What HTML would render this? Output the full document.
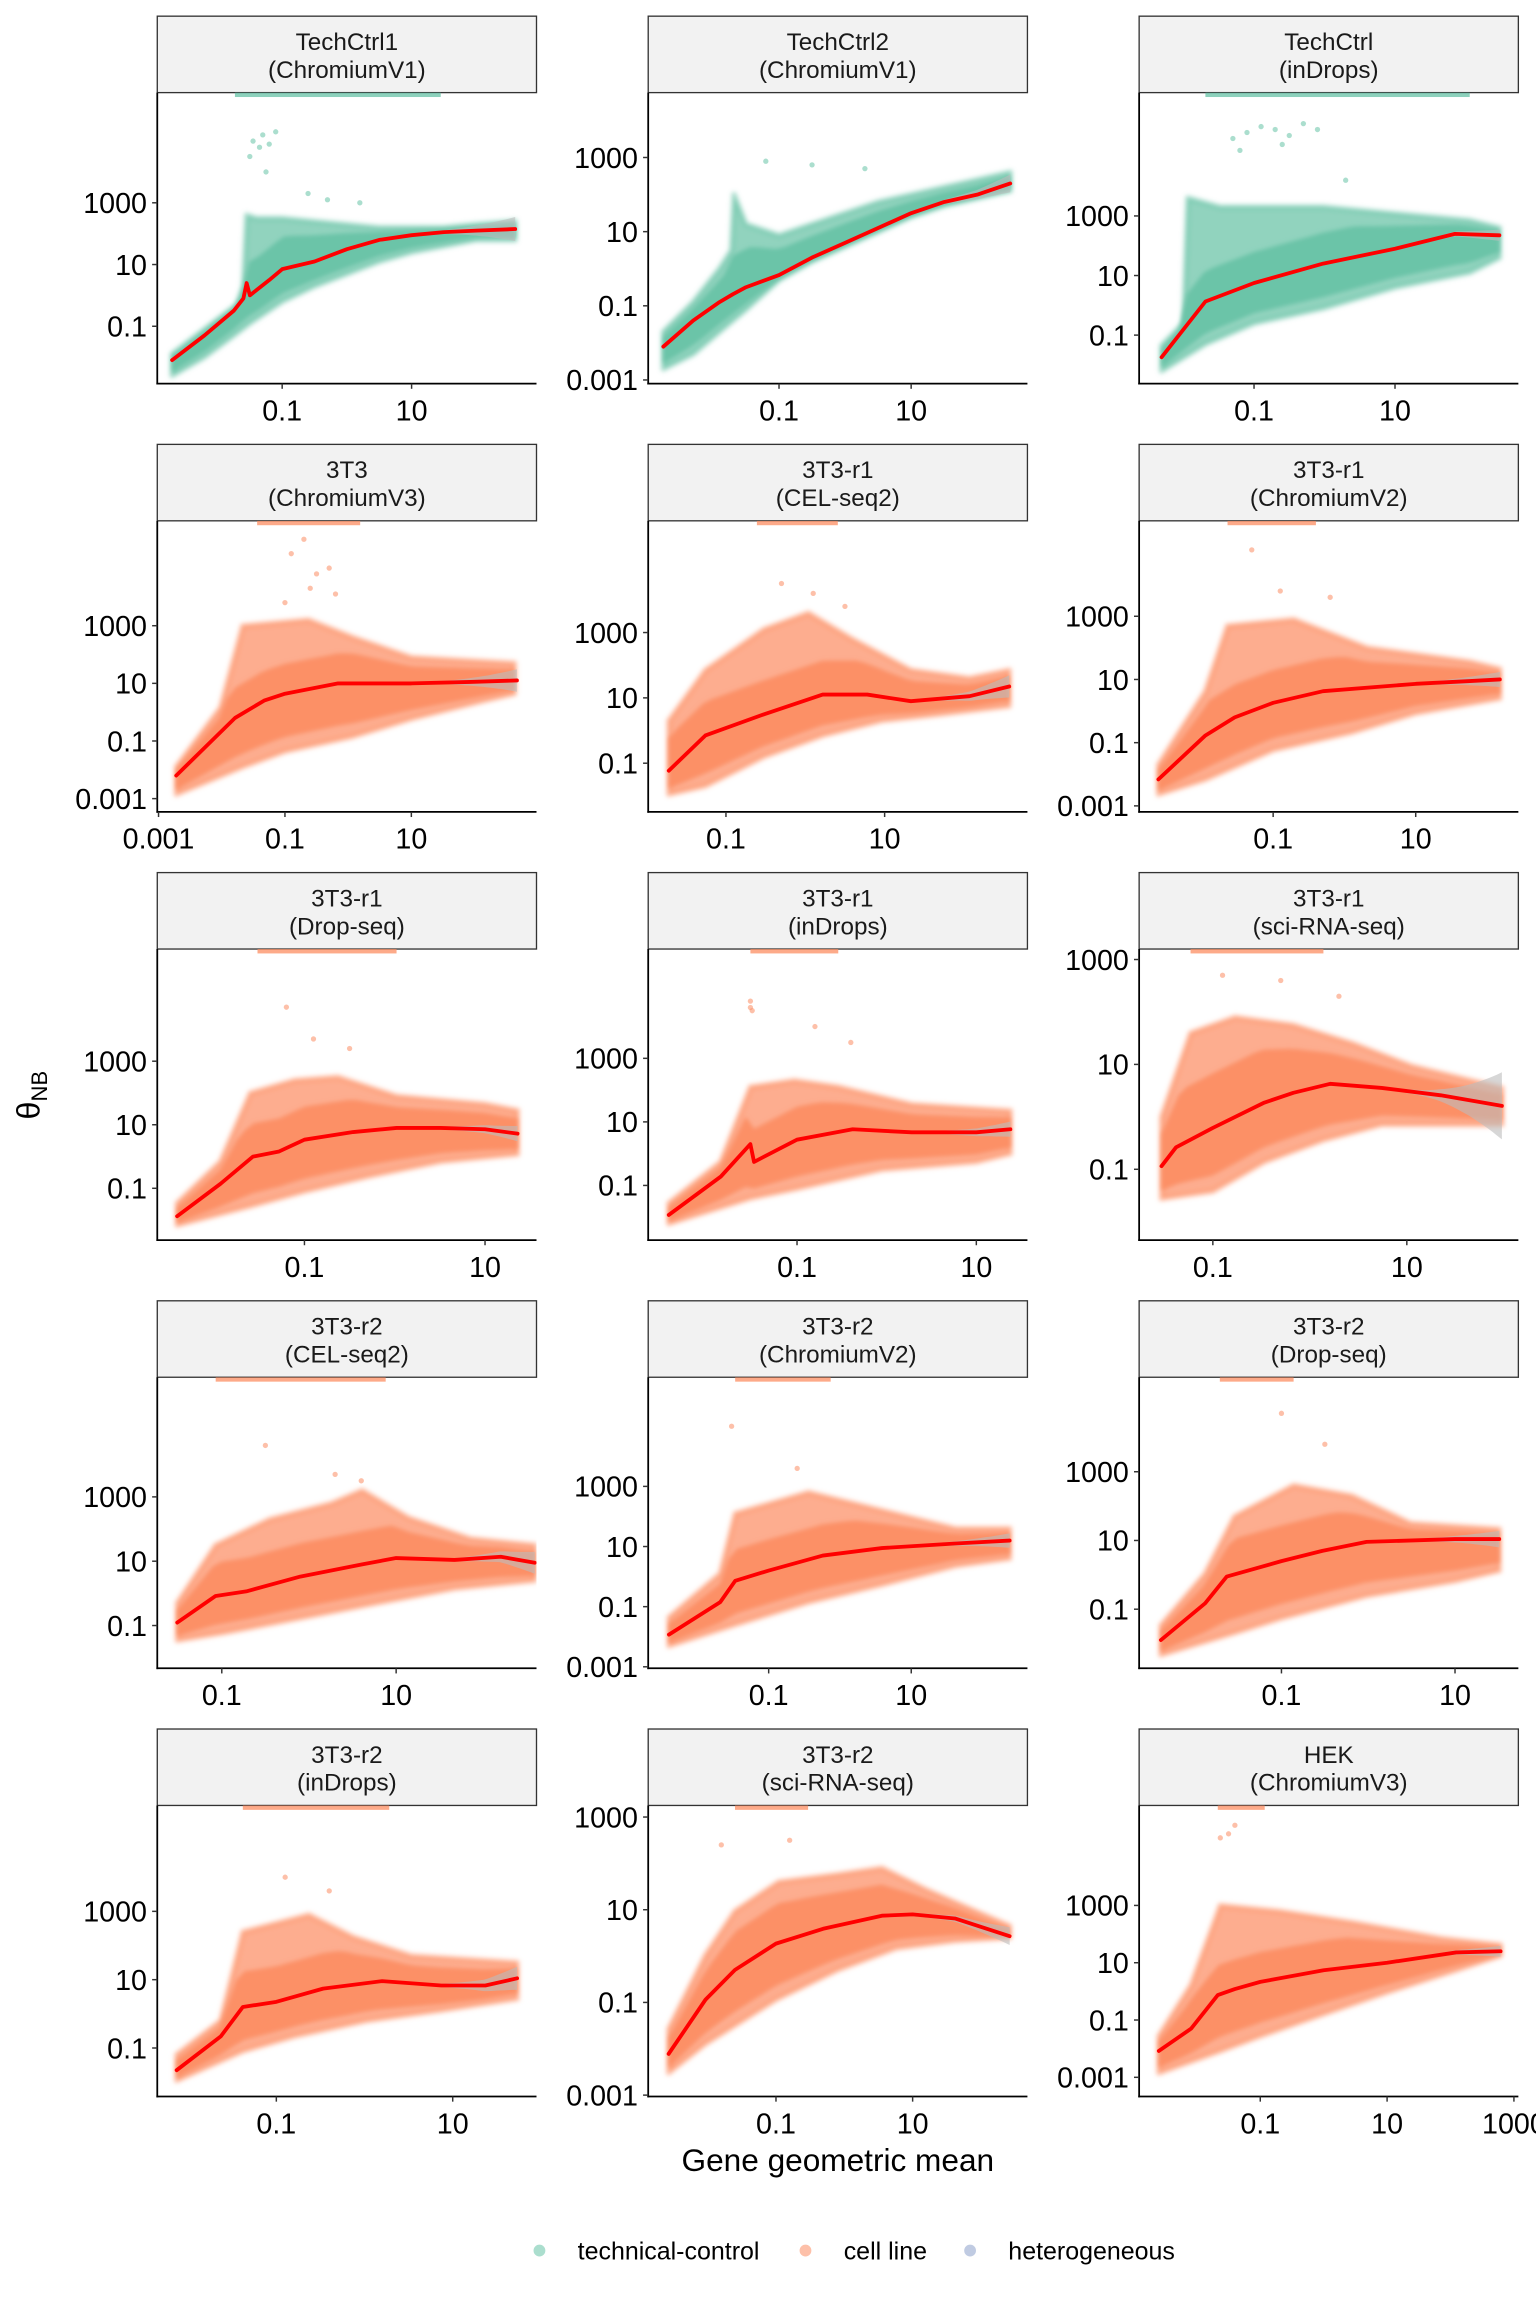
<!DOCTYPE html>
<html><head><meta charset="utf-8"><style>
html,body{margin:0;padding:0;background:#fff;}
svg{display:block;font-family:"Liberation Sans",Arial,sans-serif;}
</style></head><body>
<svg id="chart" width="1536" height="2304" viewBox="0 0 1045 1567.35" preserveAspectRatio="none" xmlns="http://www.w3.org/2000/svg"></svg>
<script>
const panelTitles=["TechCtrl1","TechCtrl2","TechCtrl","3T3","3T3-r1","3T3-r1","3T3-r1","3T3-r1","3T3-r1","3T3-r2","3T3-r2","3T3-r2","3T3-r2","3T3-r2","HEK"];
const panelMethods=["ChromiumV1","ChromiumV1","inDrops","ChromiumV3","CEL-seq2","ChromiumV2","Drop-seq","inDrops","sci-RNA-seq","CEL-seq2","ChromiumV2","Drop-seq","inDrops","sci-RNA-seq","ChromiumV3"];
const panelGroup=[0,0,0,1,1,1,1,1,1,1,1,1,1,1,1];
const xDomain=[[-2.93,2.93],[-2.98,2.76],[-2.63,2.75],[-3.02,2.98],[-1.98,2.8],[-2.88,2.44],[-2.63,1.57],[-2.66,1.57],[-1.76,2.15],[-1.74,2.61],[-2.69,2.63],[-2.64,1.73],[-2.35,1.95],[-2.87,2.68],[-2.91,3.07]];
const yDomain=[[-2.86,6.57],[-3.1,4.75],[-2.63,7.14],[-3.46,6.64],[-2.49,6.42],[-3.19,6.02],[-2.63,6.53],[-2.72,6.44],[-2.35,3.2],[-2.33,6.72],[-3.05,6.63],[-2.72,5.75],[-2.42,6.1],[-3.03,3.25],[-3.67,6.49]];
const yTicks=[[3,1,-1],[3,1,-1,-3],[3,1,-1],[3,1,-1,-3],[3,1,-1],[3,1,-1,-3],[3,1,-1],[3,1,-1],[3,1,-1],[3,1,-1],[3,1,-1,-3],[3,1,-1],[3,1,-1],[3,1,-1,-3],[3,1,-1,-3]];
const xTicks=[[-1,1],[-1,1],[-1,1],[-3,-1,1],[-1,1],[-1,1],[-1,1],[-1,1],[-1,1],[-1,1],[-1,1],[-1,1],[-1,1],[-1,1],[-1,1,3]];
const xMid=[
[-2.7,-2.2,-1.75,-1.6,-1.55,-1.5,-1.2,-1,-0.5,0,0.5,1,1.5,2,2.6],
[-2.75,-2.3,-1.9,-1.7,-1.5,-1,-0.5,0,0.5,1,1.5,2,2.5],
[-2.31,-1.69,-1,-0.02,1,1.85,2.48],
[-2.72,-1.79,-1.33,-1,-0.16,1,1.93,2.67],
[-1.72,-1.26,-0.52,0.22,0.78,1.33,2.07,2.57],
[-2.61,-1.95,-1.54,-1,-0.3,1,1.76,2.18],
[-2.41,-1.93,-1.57,-1.28,-1,-0.46,0.02,0.51,1,1.36],
[-2.43,-1.85,-1.52,-1.48,-1,-0.38,0.28,1,1.38],
[-1.53,-1.38,-1,-0.47,-0.17,0.21,0.74,1.35,1.98],
[-1.51,-1.07,-0.72,-0.1,0.61,1,1.67,2.2,2.59],
[-2.4,-1.68,-1.47,-1,-0.24,0.59,1.62,2.38],
[-2.39,-1.88,-1.63,-1,-0.53,-0.02,1,1.51],
[-2.13,-1.63,-1.38,-1,-0.47,0.2,0.87,1.37,1.73],
[-2.57,-2.03,-1.6,-1,-0.31,0.55,1,1.62,2.42],
[-2.6,-2.09,-1.67,-1.4,-1,0,1,2.09,2.79]];
const yMid=[
[-2.1,-1.3,-0.5,-0.1,0.4,0.0,0.5,0.85,1.1,1.5,1.8,1.95,2.05,2.1,2.15],
[-2.1,-1.4,-0.9,-0.69,-0.5,-0.17,0.3,0.7,1.1,1.5,1.8,2.0,2.3],
[-1.74,0.13,0.75,1.4,1.9,2.4,2.35],
[-2.2,-0.2,0.4,0.64,1.0,1.0,1.05,1.1],
[-1.23,-0.15,0.5,1.1,1.1,0.9,1.05,1.35],
[-2.16,-0.77,-0.2,0.26,0.63,0.86,0.95,1.0],
[-1.88,-0.86,0,0.16,0.53,0.77,0.9,0.9,0.86,0.72],
[-1.93,-0.72,0.3,-0.26,0.44,0.77,0.67,0.67,0.77],
[-0.94,-0.58,-0.21,0.27,0.46,0.63,0.55,0.41,0.21],
[-0.91,-0.08,0.06,0.52,0.9,1.1,1.04,1.14,0.95],
[-1.93,-0.85,-0.14,0.2,0.7,0.95,1.1,1.2],
[-1.9,-0.83,-0.05,0.4,0.7,0.96,1.04,1.04],
[-1.65,-0.66,0.2,0.35,0.74,0.96,0.83,0.83,1.04],
[-2.11,-0.94,-0.3,0.27,0.59,0.87,0.9,0.81,0.43],
[-2.08,-1.3,-0.13,0.08,0.33,0.74,1.0,1.36,1.4]];
const xHi=[
[-2.7,-2.2,-1.7,-1.6,-1.55,-1.4,-1,-0.5,0,0.5,1,1.5,2,2.6],
[-2.75,-2.3,-1.9,-1.72,-1.68,-1.5,-1,-0.5,0,0.5,1,1.5,2,2.5],
[-2.31,-2.0,-1.94,-1.48,-0.02,2.06,2.48],
[-2.72,-2.02,-1.67,-0.63,0.07,1,2.63],
[-1.72,-1.26,-0.52,0.04,0.59,1.33,2.07,2.57],
[-2.61,-1.95,-1.64,-0.71,0.32,1.76,2.18],
[-2.41,-1.93,-1.6,-1.11,-0.63,0.02,1,1.36],
[-2.43,-1.85,-1.52,-1.03,-0.54,0.28,1.38],
[-1.53,-1.23,-0.77,-0.17,0.44,1.05,1.98],
[-1.51,-1.07,-0.45,0.26,0.61,1.14,1.85,2.59],
[-2.4,-1.68,-1.47,-0.44,0.59,1.62,2.38],
[-2.39,-1.88,-1.54,-0.86,-0.19,0.49,1.51],
[-2.13,-1.63,-1.38,-0.63,-0.13,0.53,1.73],
[-2.57,-2.03,-1.6,-0.96,-0.1,0.55,1.19,2.42],
[-2.6,-2.09,-1.63,-0.7,0.47,1.86,2.79]];
const yHi=[
[-1.9,-1.1,-0.3,0.3,2.6,2.5,2.5,2.4,2.3,2.2,2.2,2.2,2.3,2.4],
[-1.7,-0.9,0.0,0.5,2.0,1.2,0.9,1.2,1.5,1.8,2.0,2.2,2.4,2.6],
[-1.35,-0.6,3.6,3.3,3.3,2.85,2.6],
[-1.9,0.15,3.0,3.2,2.6,1.9,1.7],
[0.3,1.85,3.1,3.6,2.8,1.85,1.6,1.85],
[-1.7,0.63,2.7,2.9,2.0,1.56,1.33],
[-1.47,-0.16,2.0,2.4,2.5,1.9,1.65,1.45],
[-1.56,-0.26,2.1,2.3,2.1,1.55,1.35],
[0.0,1.6,1.9,1.75,1.4,0.97,0.55],
[-0.3,1.5,2.3,2.8,3.2,2.35,1.7,1.5],
[-1.36,0.1,2.1,2.8,2.2,1.6,1.6],
[-1.47,0.03,1.7,2.6,2.3,1.5,1.33],
[-1.2,-0.2,2.4,2.9,2.25,1.7,1.5],
[-1.57,0.02,0.97,1.6,1.76,1.9,1.44,0.65],
[-1.56,0.23,3.0,2.8,2.4,1.85,1.62]];
const xLo=[
[-2.7,-2.2,-1.75,-1.5,-1,-0.5,0,0.5,1,1.5,2,2.6],
[-2.75,-2.3,-1.9,-1.7,-1.5,-1,-0.5,0,0.5,1,1.5,2,2.5],
[-2.31,-1.69,-1,-0.02,1,2.06,2.48],
[-2.72,-1.67,-1,0.07,1,2.16,2.63],
[-1.72,-1.26,-0.52,0.22,0.96,1.7,2.57],
[-2.61,-1.95,-1,0.11,1,2.18],
[-2.41,-1.6,-1,-0.3,0.51,1.36],
[-2.43,-1.52,-1,-0.05,1,1.38],
[-1.53,-1,-0.47,0.14,0.74,1.98],
[-1.51,-0.98,-0.1,0.79,1.67,2.59],
[-2.4,-1.47,-0.44,0.59,1.62,2.38],
[-2.39,-1.54,-1,-0.02,1,1.51],
[-2.13,-1.38,-0.8,0.03,0.87,1.73],
[-2.57,-2.03,-1,-0.1,0.76,1.62,2.42],
[-2.6,-1.63,-1,0,1,2.09,2.79]];
const yLo=[
[-2.6,-2.0,-1.3,-0.9,-0.2,0.3,0.7,1.1,1.4,1.6,1.8,1.8],
[-2.7,-2.3,-1.7,-1.4,-1.1,-0.3,0.2,0.6,1.0,1.4,1.7,1.9,2.1],
[-2.2,-1.3,-0.6,-0.1,0.6,1.1,1.6],
[-2.85,-1.9,-1.36,-0.85,-0.23,0.4,0.64],
[-1.95,-1.7,-0.8,-0.15,0.3,0.5,0.75],
[-2.63,-2.16,-1.23,-0.67,-0.07,0.4],
[-2.16,-1.56,-1.1,-0.63,-0.16,0.07],
[-2.2,-1.4,-1.1,-0.5,-0.26,0.0],
[-1.56,-1.42,-0.86,-0.44,-0.15,-0.15],
[-1.46,-1.23,-0.77,-0.3,0.15,0.4],
[-2.3,-1.6,-0.85,-0.27,0.36,0.6],
[-2.33,-1.69,-1.26,-0.61,-0.18,0.12],
[-1.95,-1.09,-0.66,-0.2,0.1,0.44],
[-2.52,-1.89,-0.94,-0.3,0.17,0.33,0.4],
[-2.85,-2.08,-1.56,-0.79,-0.03,0.74,1.25]];
const topBand=[[-1.73,1.45],null,[-1.69,2.06],[-1.44,0.19],[-0.61,0.41],[-1.64,-0.4],[-1.52,0.02],[-1.52,-0.54],[-1.23,0.14],[-1.07,0.88],[-1.47,-0.13],[-1.71,-0.86],[-1.38,0.28],[-1.6,-0.53],[-1.67,-0.93]];
const outX=[[-1.45,-1.35,-1.3,-1.2,-1.1,-1.5,-1.25,-0.6,-0.3,0.2],[-1.2,-0.5,0.3],[-1.3,-1.1,-0.9,-0.7,-0.5,-0.3,-0.1,-1.2,-0.6,0.3],[-0.9,-0.7,-0.5,-0.3,-0.6,-1.0,-0.2],[-0.3,0.1,0.5],[-1.3,-0.9,-0.2],[-1.2,-0.9,-0.5],[-1.52,-1.52,-1.5,-0.8,-0.4],[-0.9,-0.3,0.3],[-0.5,0.3,0.6],[-1.52,-0.6],[-1.0,-0.5],[-0.9,-0.4],[-1.8,-0.8],[-1.63,-1.5,-1.4]];
const outY=[[5.0,4.8,5.2,4.9,5.3,4.5,4.0,3.3,3.1,3.0],[2.9,2.8,2.7],[5.6,5.8,6.0,5.9,5.7,6.1,5.9,5.2,5.4,4.2],[5.5,6.0,4.8,5.0,4.3,3.8,4.1],[4.5,4.2,3.8],[5.1,3.8,3.6],[4.7,3.7,3.4],[4.6,4.8,4.5,4.0,3.5],[2.7,2.6,2.3],[4.6,3.7,3.5],[5.0,3.6],[4.7,3.8],[4.0,3.6],[2.4,2.5],[5.36,5.5,5.8]];
const ciEnd=[0.35,0.2,0.15,0.35,0.3,0.2,0.2,0.2,0.6,0.3,0.2,0.2,0.3,0.15,0.15];
const groupColors=["#66c2a5","#fc8d62","#8da0cb"];
const legendLabels=["technical-control","cell line","heterogeneous"];

const NS="http://www.w3.org/2000/svg";
const svg=document.getElementById("chart");
function mk(tag,attrs,parent){const e=document.createElementNS(NS,tag);for(const k in attrs)e.setAttribute(k,attrs[k]);(parent||svg).appendChild(e);return e;}
function fmt(v){return v===3?"1000":v===1?"10":v===-1?"0.1":v===-3?"0.001":String(Math.pow(10,v));}
function interp(xs,ys,x){if(x<=xs[0])return ys[0];for(let i=1;i<xs.length;i++){if(x<=xs[i]){const t=(x-xs[i-1])/(xs[i]-xs[i-1]);return ys[i-1]+t*(ys[i]-ys[i-1]);}}return ys[ys.length-1];}

const colL=[107,441,775], W=258, rowH=291.3, H=198;
const defs=mk("defs",{});
const flt=mk("filter",{id:"fuzz",x:"-10%",y:"-10%",width:"120%",height:"120%"},defs);
mk("feGaussianBlur",{stdDeviation:1.4},flt);
for(let p=0;p<15;p++){
  const c=p%3, r=Math.floor(p/3);
  const L=colL[c], T=63+r*rowH, B=T+H, sT=11+r*rowH;
  const xd=xDomain[p], yd=yDomain[p];
  const sx=v=>L+(v-xd[0])/(xd[1]-xd[0])*W;
  const sy=v=>B-(v-yd[0])/(yd[1]-yd[0])*H;
  const col=groupColors[panelGroup[p]];
  const g=mk("g",{});
  
  
  const cp=mk("clipPath",{id:"cp"+p},defs);
  mk("rect",{x:L,y:T,width:W,height:H},cp);
  const strip=mk("rect",{x:L,y:sT,width:W,height:52,fill:"#f2f2f2",stroke:"#333",'stroke-width':0.9},g);
  
  
  const t1=mk("text",{x:L+W/2,y:sT+23,'text-anchor':'middle','font-size':16.5,fill:'#1a1a1a'},g);
  t1.textContent=panelTitles[p];
  
  
  const t2=mk("text",{x:L+W/2,y:sT+42,'text-anchor':'middle','font-size':16.5,fill:'#1a1a1a'},g);
  t2.textContent="("+panelMethods[p]+")";
  
  
  const inner=mk("g",{'clip-path':'url(#cp'+p+')'},g);
  let pts=[];
  for(let i=0;i<xHi[p].length;i++)pts.push(sx(xHi[p][i]).toFixed(1)+","+sy(yHi[p][i]).toFixed(1));
  for(let i=xLo[p].length-1;i>=0;i--)pts.push(sx(xLo[p][i]).toFixed(1)+","+sy(yLo[p][i]).toFixed(1));
  const cloud=mk("polygon",{points:pts.join(" "),fill:col,'fill-opacity':0.72,stroke:col,'stroke-opacity':0.45,'stroke-width':4,'stroke-linejoin':'round',filter:'url(#fuzz)'},inner);
  
  
  const xm=xMid[p], ym=yMid[p];
  const xA=Math.max(xHi[p][0],xLo[p][0]), xB=Math.min(xHi[p][xHi[p].length-1],xLo[p][xLo[p].length-1]);
  let cu=[],cd=[];
  for(let k=0;k<=40;k++){const x=xA+(xB-xA)*k/40;const m=interp(xm,ym,x);const hi=Math.min(interp(xHi[p],yHi[p],x),m+1.6);const lo=interp(xLo[p],yLo[p],x);
    cu.push(sx(x).toFixed(1)+","+sy(m+0.65*(hi-m)).toFixed(1));cd.unshift(sx(x).toFixed(1)+","+sy(m-0.75*(m-lo)).toFixed(1));}
  const core=mk("polygon",{points:cu.concat(cd).join(" "),fill:col,'fill-opacity':0.9,filter:'url(#fuzz)'},inner);
  
  
  if(topBand[p]){
    const tb=mk("rect",{x:sx(topBand[p][0]),y:T,width:sx(topBand[p][1])-sx(topBand[p][0]),height:3,fill:col,'fill-opacity':0.75},inner);
    
    
  }
  for(let i=0;i<outX[p].length;i++){
    const o=mk("circle",{cx:sx(outX[p][i]),cy:sy(outY[p][i]),r:1.8,fill:col,'fill-opacity':0.55},inner);
    
    
  }
  const x0=xm[0], x1=xm[xm.length-1], xs0=x0+0.72*(x1-x0);
  let up=[],dn=[];
  for(let k=0;k<=20;k++){const x=xs0+(x1-xs0)*k/20;const y=interp(xm,ym,x);const h=0.04+ciEnd[p]*Math.pow(k/20,2);up.push(sx(x).toFixed(1)+","+sy(y+h).toFixed(1));dn.unshift(sx(x).toFixed(1)+","+sy(y-h).toFixed(1));}
  const ci=mk("polygon",{points:up.concat(dn).join(" "),fill:"#bdbdbd",'fill-opacity':0.6},inner);
  
  
  const tp=xm.map((x,i)=>sx(x).toFixed(1)+","+sy(ym[i]).toFixed(1)).join(" ");
  const tr=mk("polyline",{points:tp,fill:"none",stroke:"#ff0000",'stroke-width':2.6,'stroke-linejoin':'round','stroke-linecap':'round'},inner);
  
  
  const ya=mk("line",{x1:L,y1:T,x2:L,y2:B+0.6,stroke:"#000",'stroke-width':1.2},g);
  
  
  const xa=mk("line",{x1:L-0.6,y1:B,x2:L+W,y2:B,stroke:"#000",'stroke-width':1.2},g);
  
  
  yTicks[p].forEach(v=>{
    const y=sy(v);
    const tk=mk("line",{x1:L-3.5,y1:y,x2:L,y2:y,stroke:"#333",'stroke-width':1},g);
    
    
    const tl=mk("text",{x:L-7,y:y+7,'text-anchor':'end','font-size':19.5,fill:'#000'},g);
    tl.textContent=fmt(v);
    
    
  });
  xTicks[p].forEach(v=>{
    const x=sx(v);
    const tk=mk("line",{x1:x,y1:B,x2:x,y2:B+3.5,stroke:"#333",'stroke-width':1},g);
    
    
    const tl=mk("text",{x:x,y:B+25,'text-anchor':'middle','font-size':19.5,fill:'#000'},g);
    tl.textContent=fmt(v);
    
    
  });
}
const yt=mk("text",{x:0,y:0,transform:"translate(27,745) rotate(-90)",'text-anchor':'middle','font-size':22,fill:'#000'});
yt.innerHTML='θ<tspan font-size="15" dy="5">NB</tspan>';


const xt=mk("text",{x:570,y:1477,'text-anchor':'middle','font-size':21.5,fill:'#000'});
xt.textContent="Gene geometric mean";


const legX=[367,548,660];
legendLabels.forEach((lab,i)=>{
  const lg=mk("g",{});
  
  
  mk("circle",{cx:legX[i],cy:1531,r:4,fill:groupColors[i],'fill-opacity':0.55},lg);
  const t=mk("text",{x:legX[i]+26,y:1537,'font-size':17,fill:'#000'},lg);
  t.textContent=lab;
});
</script>
</body></html>
